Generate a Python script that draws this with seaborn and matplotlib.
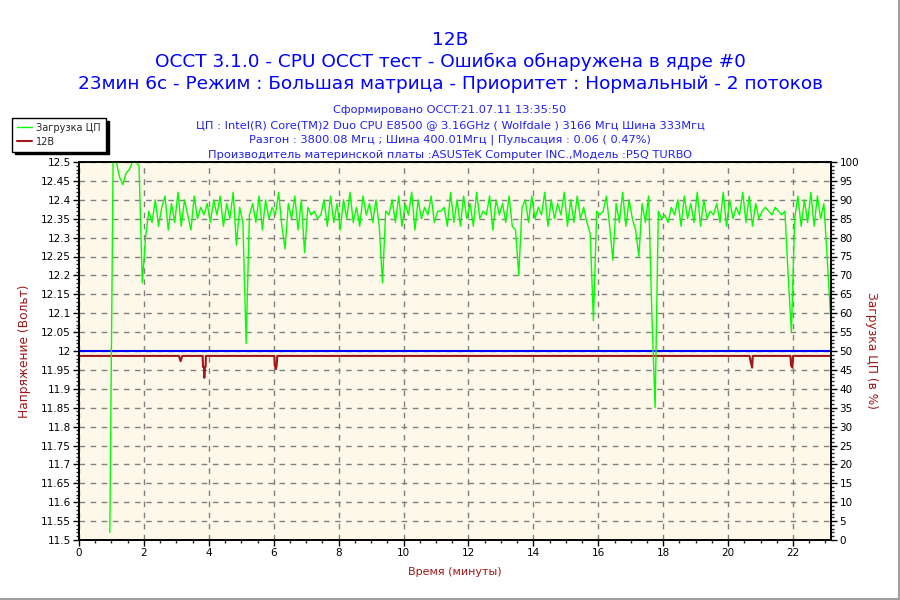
import numpy as np
import pandas as pd
import matplotlib.pyplot as plt
import seaborn as sns
from matplotlib.lines import Line2D
from matplotlib.ticker import MultipleLocator, FuncFormatter

# texts
title_lines = ["12В",
               "OCCT 3.1.0 - CPU OCCT тест - Ошибка обнаружена в ядре #0",
               "23мин 6с - Режим : Большая матрица - Приоритет : Нормальный - 2 потоков"]
info_lines = ["Сформировано OCCT:21.07.11 13:35:50",
              "ЦП : Intel(R) Core(TM)2 Duo CPU E8500 @ 3.16GHz ( Wolfdale ) 3166 Мгц Шина 333Мгц",
              "Разгон : 3800.08 Мгц ; Шина 400.01Мгц | Пульсация : 0.06 ( 0.47%)",
              "Производитель материнской платы :ASUSTeK Computer INC.,Модель :P5Q TURBO"]

# 12V rail (minutes, volts)
v12_time = [0.0, 3.08, 3.13, 3.18, 3.81, 3.82, 3.85, 3.86, 3.88, 3.90, 3.91,
            6.02, 6.03, 6.07, 6.09, 6.11, 20.66, 20.70, 20.74, 20.76,
            21.92, 21.94, 21.98, 22.00, 23.17]
v12_value = [11.987, 11.987, 11.973, 11.987, 11.987, 11.958, 11.958, 11.929, 11.958, 11.958, 11.987,
             11.987, 11.962, 11.952, 11.962, 11.987, 11.987, 11.970, 11.956, 11.987,
             11.987, 11.962, 11.956, 11.987, 11.987]
nominal_voltage = 12.0

# CPU load (%), one sample every 6 s starting at 0.95 min
cpu_start = 0.95
cpu_step = 0.1
cpu_load = [2, 100, 100, 96, 94, 97, 98, 100, 100, 99,
            68, 80, 87, 84, 90, 83, 88, 91, 82, 89,
            84, 92, 83, 90, 86, 82, 91, 85, 88, 86,
            89, 84, 90, 86, 91, 83, 89, 85, 92, 78,
            88, 84, 52, 86, 89, 84, 91, 82, 90, 85,
            88, 86, 92, 83, 77, 89, 85, 91, 82, 90,
            76, 88, 86, 87, 85, 86, 90, 83, 91, 84,
            89, 82, 90, 85, 92, 84, 88, 83, 91, 86,
            89, 84, 90, 83, 68, 87, 86, 90, 84, 91,
            83, 89, 86, 92, 82, 90, 85, 88, 86, 91,
            84, 87, 87, 88, 83, 92, 84, 90, 83, 91,
            85, 89, 83, 92, 85, 87, 86, 91, 82, 90,
            86, 89, 84, 91, 83, 82, 70, 88, 90, 84,
            91, 85, 88, 86, 92, 83, 90, 85, 89, 86,
            92, 83, 90, 84, 91, 85, 88, 84, 81, 58,
            87, 86, 87, 91, 83, 74, 89, 84, 92, 83,
            90, 85, 82, 75, 89, 84, 91, 60, 35, 87,
            85, 86, 84, 88, 86, 90, 83, 91, 85, 89,
            84, 92, 83, 90, 85, 87, 86, 89, 84, 92,
            83, 90, 85, 88, 86, 92, 84, 91, 83, 89,
            85, 87, 88, 87, 86, 88, 87, 86, 87, 70,
            55, 85, 91, 83, 90, 84, 92, 83, 91, 85,
            89, 75, 60]
cpu_time = cpu_start + cpu_step * np.arange(len(cpu_load))

green = '#00FF00'
dark_red = '#A01818'
blue = '#0000FF'

sns.set_style("ticks")
plt.rcParams['font.family'] = ['DejaVu Sans']

fig = plt.figure(figsize=(9, 6), dpi=100)
ax = fig.add_axes([79/900, 60/600, 752/900, 378/600])
ax.set_facecolor('#FDF8E9')
ax2 = ax.twinx()

sns.lineplot(x=v12_time, y=v12_value, ax=ax, color=dark_red, lw=1.5)
ax.axhline(nominal_voltage, color=blue, lw=1.5)
sns.lineplot(x=cpu_time, y=cpu_load, ax=ax2, color=green, lw=1)

ax.set_xlim(0, 23.17)
ax.set_ylim(11.5, 12.5)
ax2.set_ylim(0, 100)

ax.xaxis.set_major_locator(MultipleLocator(2))
ax.xaxis.set_minor_locator(MultipleLocator(0.5))
ax.yaxis.set_major_locator(MultipleLocator(0.05))
ax.yaxis.set_minor_locator(MultipleLocator(0.01))
ax.yaxis.set_major_formatter(FuncFormatter(lambda v, p: f"{round(v, 2):g}"))
ax2.yaxis.set_major_locator(MultipleLocator(5))
ax2.yaxis.set_minor_locator(MultipleLocator(1))

ax.grid(True, which='major', ls=(0, (4, 4)), color='#808080', lw=1)
ax.set_axisbelow(True)

for a in (ax, ax2):
    a.tick_params(which='major', length=4, width=1, labelsize=7.5, colors='black', pad=2)
    a.tick_params(which='minor', length=2, width=1)
    for s in a.spines.values():
        s.set_color('black')
        s.set_linewidth(1.2)

ax.set_xlabel("Время (минуты)", color=dark_red, fontsize=8, labelpad=6)
ax.set_ylabel("Напряжение (Вольт)", color=dark_red, fontsize=8.8, labelpad=7)
ax2.set_ylabel("Загрузка ЦП (в %)", color=dark_red, fontsize=8.8, rotation=270, labelpad=14)

for i, t in enumerate(title_lines):
    fig.text(0.5, 1 - (40 + 22*i)/600, t, ha='center', va='center', color=blue, fontsize=13.3)
for i, t in enumerate(info_lines):
    fig.text(0.5, 1 - (110 + 15*i)/600, t, ha='center', va='center', color='#2222EE', fontsize=8.2)

handles = [Line2D([], [], color=green, lw=1), Line2D([], [], color=dark_red, lw=1.5)]
leg = fig.legend(handles, ["Загрузка ЦП", "12В"], loc='upper left',
                 bbox_to_anchor=(12/900, 1 - 118/600), borderaxespad=0, fontsize=7,
                 frameon=True, fancybox=False, edgecolor='black', framealpha=1, handlelength=1.6,
                 borderpad=0.5, labelspacing=0.4, handletextpad=0.4,
                 shadow={'color': 'black', 'alpha': 1, 'ox': 2, 'oy': -2})
leg.get_frame().set_linewidth(1)

fig.add_artist(Line2D([0, 1], [0.0015, 0.0015], color='#A0A0A0', lw=1.5, transform=fig.transFigure))
fig.add_artist(Line2D([0.9985, 0.9985], [0, 1], color='#A0A0A0', lw=1.5, transform=fig.transFigure))

fig.savefig("out.png", dpi=100, facecolor='white')
